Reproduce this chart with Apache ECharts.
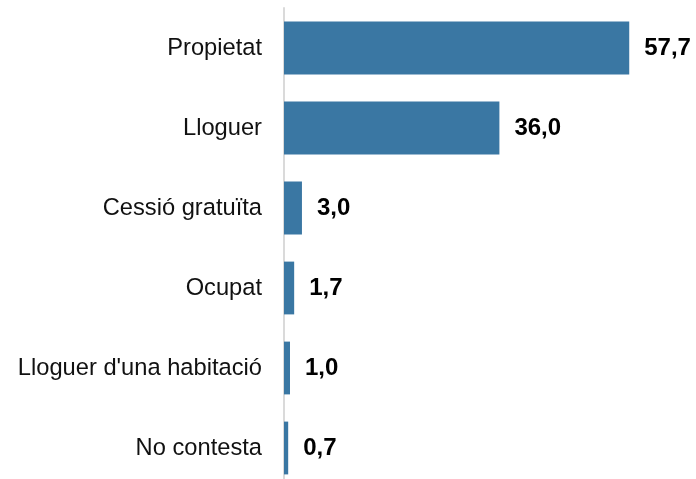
<!DOCTYPE html>
<html>
<head>
<meta charset="utf-8">
<script src="https://cdn.jsdelivr.net/npm/echarts@6/dist/echarts.min.js"></script>
<style>
  html, body { margin: 0; padding: 0; background: #fff; }
  #chart { width: 696px; height: 479px; }
</style>
</head>
<body>
<div id="chart"></div>
<script>
var categories = ['Propietat', 'Lloguer', 'Cessió gratuïta', 'Ocupat', "Lloguer d'una habitació", 'No contesta'];
var values = [57.7, 36.0, 3.0, 1.7, 1.0, 0.7];

var chart = echarts.init(document.getElementById('chart'));
var option = {
    animation: false,
    grid: {
        left: 284,
        top: 8,
        width: 359,
        height: 480,
        outerBoundsMode: 'none'
    },
    xAxis: {
        type: 'value',
        min: 0,
        max: 60,
        show: false
    },
    yAxis: {
        type: 'category',
        inverse: true,
        data: categories,
        axisLine: {
            show: true,
            lineStyle: { color: '#dadada', width: 2 }
        },
        axisTick: { show: false },
        axisLabel: {
            margin: 22,
            fontFamily: 'Liberation Sans, Arial, sans-serif',
            fontSize: 23.7,
            color: '#111'
        }
    },
    series: [{
        type: 'bar',
        data: values,
        barCategoryGap: '34%',
        itemStyle: { color: '#3a77a3' },
        label: {
            show: true,
            position: 'right',
            distance: 15,
            fontFamily: 'Liberation Sans, Arial, sans-serif',
            fontSize: 24,
            fontWeight: 'bold',
            color: '#000',
            formatter: function (p) {
                return p.value.toFixed(1).replace('.', ',');
            }
        }
    }]
};
chart.setOption(option);
</script>
</body>
</html>
